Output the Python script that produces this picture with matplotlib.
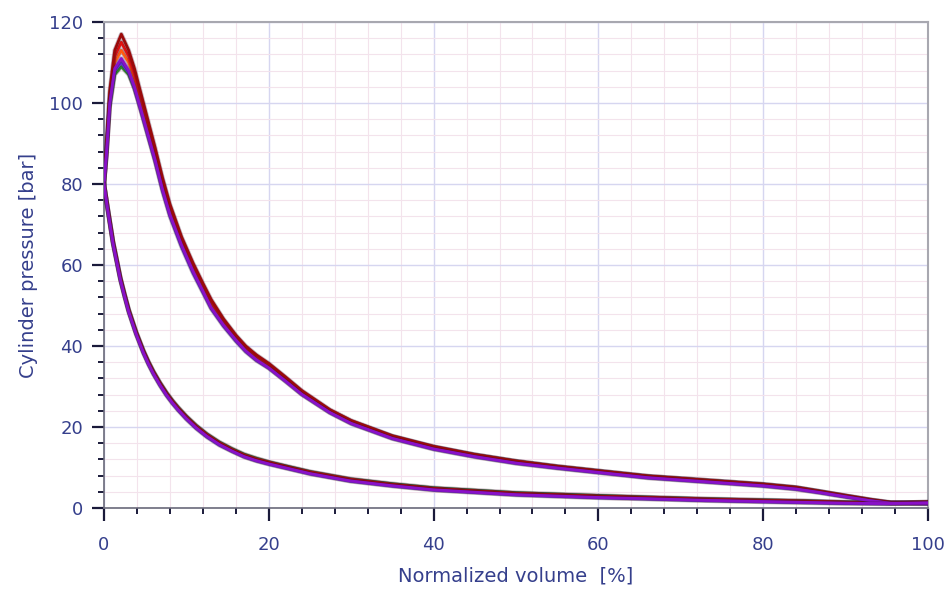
import matplotlib
matplotlib.use("Agg")
import matplotlib.pyplot as plt
import matplotlib.patheffects as pe
from matplotlib.ticker import MultipleLocator

# volumen normalizado [%] de los puntos leidos
vol_exp = [0, 0.3, 0.7, 1.3, 2.1, 3.0, 3.7, 4.4, 5.3, 6.2, 7.1, 8.0, 9.4, 10.8, 12.0, 13.0,
           14.5, 16.0, 17.2, 18.5, 20.0, 22.0, 24.0, 27.4, 30.0, 35.0, 40.0, 45.0, 50.0, 55.0,
           60.0, 66.0, 73.0, 80.0, 84.0, 87.0, 90.0, 93.0, 95.5, 100.0]
vol_comp = [0, 0.4, 1.1, 1.5, 2.0, 2.5, 3.0, 3.9, 4.8, 5.4, 6.0, 6.8, 7.6, 8.3, 9.0, 10.0,
            11.2, 12.5, 14.0, 15.5, 17.0, 18.5, 20.0, 22.5, 25.0, 29.9, 35.0, 40.0, 50.0, 60.0,
            66.0, 73.0, 80.0, 85.0, 90.0, 95.0, 100.0]

# presion de expansion [bar], un ciclo por lista
p_exp_c1 = [80, 89, 103, 113, 117, 113, 108.5, 103, 96, 89, 81.5, 75, 67, 60.5, 55.5, 51.5,
            46.7, 42.7, 40, 37.8, 35.7, 32.4, 29, 24.3, 21.6, 17.8, 15.2, 13.2, 11.6, 10.3,
            9.2, 7.9, 6.9, 5.9, 5.1, 4.1, 3.1, 2.1, 1.4, 1.3]
p_exp_c2 = [80, 88.5, 102, 111.5, 115, 111.5, 107, 102, 95, 88, 81, 74.5, 66.5, 60, 55, 51,
            46.4, 42.4, 39.7, 37.5, 35.5, 32.2, 28.8, 24.1, 21.4, 17.7, 15.1, 13.1, 11.5, 10.2,
            9.1, 7.8, 6.8, 5.8, 5.0, 4.0, 3.0, 2.0, 1.3, 1.2]
p_exp_c3 = [80, 88, 101, 110, 113, 110, 106, 101, 94, 87.5, 80, 74, 66, 59.5, 54.5, 50.5,
            46, 42.2, 39.5, 37.3, 35.3, 32, 28.6, 24, 21.3, 17.6, 15, 13, 11.4, 10.1,
            9, 7.7, 6.7, 5.7, 5, 4, 3, 2, 1.3, 1.2]
p_exp_c4 = [80, 87, 99, 107, 109, 107, 103.5, 99, 92.5, 86, 79, 72.8, 65.3, 59, 54, 50,
            45.7, 42, 39.3, 37.1, 35.1, 31.9, 28.5, 24, 21.4, 17.7, 15.1, 13.2, 11.6, 10.3,
            9.2, 7.9, 6.9, 5.9, 5.1, 4.1, 3.0, 2.0, 1.3, 1.2]
p_exp_c5 = [80, 87, 99.5, 108, 110, 107.5, 103.5, 98.5, 92, 85.5, 78.2, 72, 64.5, 58, 53.2, 49.2,
            44.9, 41.2, 38.6, 36.4, 34.5, 31.3, 28, 23.5, 20.8, 17.1, 14.5, 12.6, 11, 9.8,
            8.7, 7.4, 6.4, 5.4, 4.6, 3.7, 2.7, 1.8, 1.1, 1.0]
p_exp_c6 = [80, 87.5, 100, 108.5, 111, 108, 104, 99, 92.5, 86, 78.7, 72.5, 65, 58.5, 53.6, 49.5,
            45.2, 41.5, 38.8, 36.6, 34.6, 31.4, 28.1, 23.6, 20.9, 17.2, 14.6, 12.7, 11.1, 9.9,
            8.8, 7.5, 6.5, 5.5, 4.7, 3.8, 2.8, 1.8, 1.2, 1.1]

# presion de compresion [bar]
p_comp_c1 = [80, 74.6, 65.6, 61.6, 56.6, 52.6, 48.8, 43.3, 38.6, 35.9, 33.5, 30.7, 28.2, 26.3,
             24.6, 22.4, 20.1, 18.0, 16.0, 14.4, 13.0, 12.0, 11.2, 10.0, 8.8, 7.0, 5.8, 4.8,
             3.6, 2.9, 2.5, 2.1, 1.8, 1.6, 1.4, 1.2, 1.4]
p_comp_c2 = [80, 74.7, 65.7, 61.7, 56.7, 52.7, 48.9, 43.4, 38.7, 36.0, 33.6, 30.8, 28.3, 26.4,
             24.7, 22.5, 20.2, 18.1, 16.1, 14.5, 13.1, 12.1, 11.3, 10.0, 8.9, 7.1, 5.8, 4.8,
             3.6, 2.9, 2.6, 2.2, 1.9, 1.7, 1.4, 1.3, 1.5]
p_comp_c3 = [80, 74.5, 65.5, 61.5, 56.5, 52.5, 48.7, 43.2, 38.5, 35.8, 33.4, 30.6, 28.1, 26.2,
             24.5, 22.3, 20.0, 17.9, 15.9, 14.3, 12.9, 11.9, 11.1, 9.9, 8.7, 6.9, 5.7, 4.7,
             3.5, 2.8, 2.5, 2.1, 1.8, 1.6, 1.3, 1.2, 1.4]
p_comp_c4 = [80, 74.9, 65.9, 61.9, 56.9, 52.9, 49.1, 43.6, 38.9, 36.2, 33.8, 31.0, 28.5, 26.6,
             24.9, 22.7, 20.4, 18.3, 16.3, 14.7, 13.3, 12.3, 11.4, 10.2, 9.0, 7.2, 6.0, 5.0,
             3.8, 3.1, 2.7, 2.3, 2.0, 1.8, 1.5, 1.3, 1.5]
p_comp_c5 = [80, 74.1, 65.1, 61.1, 56.1, 52.1, 48.3, 42.8, 38.1, 35.4, 33.0, 30.2, 27.7, 25.8,
             24.1, 21.9, 19.6, 17.5, 15.5, 14.0, 12.6, 11.6, 10.8, 9.6, 8.4, 6.6, 5.4, 4.4,
             3.2, 2.5, 2.2, 1.8, 1.5, 1.3, 1.1, 1.0, 1.2]
p_comp_c6 = [80, 74.3, 65.3, 61.3, 56.3, 52.3, 48.5, 43.0, 38.3, 35.6, 33.2, 30.4, 27.9, 26.0,
             24.3, 22.1, 19.8, 17.7, 15.7, 14.1, 12.7, 11.7, 10.9, 9.7, 8.5, 6.7, 5.5, 4.5,
             3.3, 2.6, 2.3, 1.9, 1.6, 1.4, 1.2, 1.1, 1.3]

colores = ["#9b0a0a", "#e01010", "#ff5a10", "#2a8a2a", "#5a30d8", "#8a10c8"]
ciclos_exp = [p_exp_c1, p_exp_c2, p_exp_c3, p_exp_c4, p_exp_c5, p_exp_c6]
ciclos_comp = [p_comp_c1, p_comp_c2, p_comp_c3, p_comp_c4, p_comp_c5, p_comp_c6]

azul_texto = "#353f8c"

fig = plt.figure(figsize=(9.48, 5.93), dpi=100)
ax = fig.add_axes([0.1097, 0.1433, 0.8692, 0.8196])

orden = [3, 2, 1, 0, 4, 5]   # verde al fondo, morados encima
for i in orden:
    borde = [pe.Stroke(linewidth=3.2, foreground="#401030", alpha=0.3), pe.Normal()]
    ax.plot(vol_exp, ciclos_exp[i], color=colores[i], lw=2.0, path_effects=borde,
            solid_joinstyle="round", zorder=3)
    ax.plot(vol_comp, ciclos_comp[i], color=colores[i], lw=2.0, path_effects=borde,
            solid_joinstyle="round", zorder=3)

ax.set_xlim(0, 100)
ax.set_ylim(0, 120)
ax.xaxis.set_major_locator(MultipleLocator(20))
ax.xaxis.set_minor_locator(MultipleLocator(4))
ax.yaxis.set_major_locator(MultipleLocator(20))
ax.yaxis.set_minor_locator(MultipleLocator(4))
ax.grid(which="major", color="#d6d6f0", linewidth=1.0, zorder=0)
ax.grid(which="minor", color="#f3e3ec", linewidth=0.8, zorder=0)
ax.set_axisbelow(True)

ax.tick_params(which="major", direction="out", length=9, width=1.6, color="#1a1a3a",
               labelsize=13, labelcolor=azul_texto, pad=6)
ax.tick_params(axis="x", which="major", pad=11)
ax.tick_params(which="minor", direction="out", length=4.5, width=1.4, color="#1a1a3a")

for lado in ["left", "bottom"]:
    ax.spines[lado].set_color("#6a6a7a")
    ax.spines[lado].set_linewidth(1.2)
for lado in ["top", "right"]:
    ax.spines[lado].set_color("#a8a8b0")
    ax.spines[lado].set_linewidth(1.5)

ax.set_xlabel("Normalized volume  [%]", fontsize=14, color=azul_texto, labelpad=9)
ax.set_ylabel("Cylinder pressure [bar]", fontsize=14, color=azul_texto, labelpad=8)

fig.savefig("out.png", dpi=100)
plt.close(fig)
